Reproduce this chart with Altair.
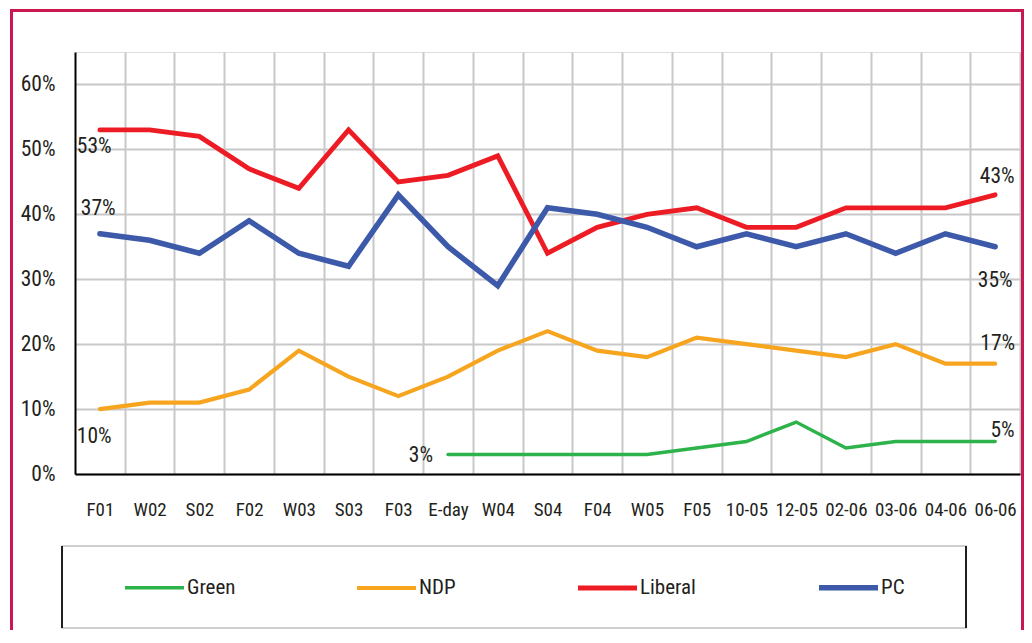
import altair as alt
import pandas as pd

categories = ["F01", "W02", "S02", "F02", "W03", "S03", "F03", "E-day", "W04", "S04",
              "F04", "W05", "F05", "10-05", "12-05", "02-06", "03-06", "04-06", "06-06"]
parties = ["Green", "NDP", "Liberal", "PC"]
colors = ["#2db34a", "#f7a51f", "#ed1c24", "#3d59a9"]
liberal = [53, 53, 52, 47, 44, 53, 45, 46, 49, 34, 38, 40, 41, 38, 38, 41, 41, 41, 43]
pc = [37, 36, 34, 39, 34, 32, 43, 35, 29, 41, 40, 38, 35, 37, 35, 37, 34, 37, 35]
ndp = [10, 11, 11, 13, 19, 15, 12, 15, 19, 22, 19, 18, 21, 20, 19, 18, 20, 17, 17]
green = [None] * 7 + [3, 3, 3, 3, 3, 4, 5, 8, 4, 5, 5, 5]
y_ticks = [0, 10, 20, 30, 40, 50, 60]

series = {"Green": green, "NDP": ndp, "Liberal": liberal, "PC": pc}
rows = []
for party, vals in series.items():
    for cat, v in zip(categories, vals):
        if v is not None:
            rows.append({"party": party, "cat": cat, "value": v})
df = pd.DataFrame(rows)

FONT = "Roboto Condensed"
TXT = "#231f20"
W, H = 945, 422

x_enc = alt.X("cat:N", sort=categories,
              scale=alt.Scale(type="band", paddingInner=0, paddingOuter=0),
              axis=alt.Axis(title=None, labelAngle=0, labelFontSize=19, labelPadding=26.5,
                            ticks=False, tickSize=0, domainColor="#000000", domainWidth=2,
                            tickBand="extent", grid=True, gridColor="#c8c8c8", gridWidth=2,
                            gridOpacity={"condition": {"test": "datum.extra", "value": 0}, "value": 1},
                            labelColor=TXT, labelFont=FONT))
y_enc = alt.Y("value:Q", scale=alt.Scale(domain=[0, 65], nice=False, zero=True),
              axis=alt.Axis(title=None, values=y_ticks, labelExpr="datum.value + '%'",
                            labelFontSize=21.5, labelPadding=20, ticks=False, tickSize=0,
                            domainColor="#000000", domainWidth=2, grid=True,
                            gridColor="#c8c8c8", gridWidth=2, labelColor=TXT, labelFont=FONT))

lines = alt.Chart(df).mark_line(strokeCap="round").encode(
    x=x_enc,
    y=y_enc,
    color=alt.Color("party:N", scale=alt.Scale(domain=parties, range=colors),
                    legend=alt.Legend(title=None, orient="none", legendX=47, legendY=503,
                                      direction="horizontal", columns=4, symbolType="stroke",
                                      symbolSize=3481, symbolStrokeWidth=5, labelFontSize=21,
                                      labelFont=FONT, labelColor=TXT, labelOffset=0,
                                      columnPadding=112, padding=0)),
    strokeWidth=alt.StrokeWidth("party:N", scale=alt.Scale(domain=parties, range=[3.5, 5.5, 5.5, 5.5]),
                                legend=None),
)

def end_label(party, cat, dx, dy, align):
    sub = df[(df.party == party) & (df.cat == cat)].copy()
    sub["label"] = sub["value"].astype(int).astype(str) + "%"
    return alt.Chart(sub).mark_text(dx=dx, dy=dy, align=align, baseline="middle",
                                    fontSize=21.5, font=FONT, color=TXT).encode(
        x=alt.X("cat:N", sort=categories), y="value:Q", text="label:N")

labels = [
    end_label("Liberal", "F01", -23, 17, "left"),
    end_label("PC", "F01", -19, -25, "left"),
    end_label("NDP", "F01", -23, 28, "left"),
    end_label("Green", "E-day", -15, 1, "right"),
    end_label("Liberal", "06-06", 19.5, -18, "right"),
    end_label("PC", "06-06", 17.5, 34, "right"),
    end_label("NDP", "06-06", 20, -20, "right"),
    end_label("Green", "06-06", 19.5, -11, "right"),
]

one = alt.Data(values=[{"a": 1}])
frame = alt.Chart(one).mark_rect(fill="transparent", stroke="#c8184f", strokeWidth=3).encode(
    x=alt.value(-63.5), x2=alt.value(W + 2.5), y=alt.value(-41.5), y2=alt.value(700))
legend_box = alt.Chart(one).mark_rect(fill="transparent", stroke="#c0c0c0", strokeWidth=1.5).encode(
    x=alt.value(-13), x2=alt.value(891), y=alt.value(494), y2=alt.value(576))
legend_left = alt.Chart(one).mark_rule(color="#231f20", strokeWidth=2).encode(
    x=alt.value(-13), y=alt.value(494), y2=alt.value(576))
legend_right = alt.Chart(one).mark_rule(color="#231f20", strokeWidth=2).encode(
    x=alt.value(891), y=alt.value(494), y2=alt.value(576))

chart = alt.layer(lines, *labels, frame, legend_box, legend_left, legend_right).properties(
    width=W, height=H,
    autosize=alt.AutoSizeParams(type="none"),
    padding={"left": 67, "top": 44, "right": 4, "bottom": 156},
).configure_view(stroke=None).configure(background="white")

chart.save("out.html", embed_options={"renderer": "svg", "actions": False})
